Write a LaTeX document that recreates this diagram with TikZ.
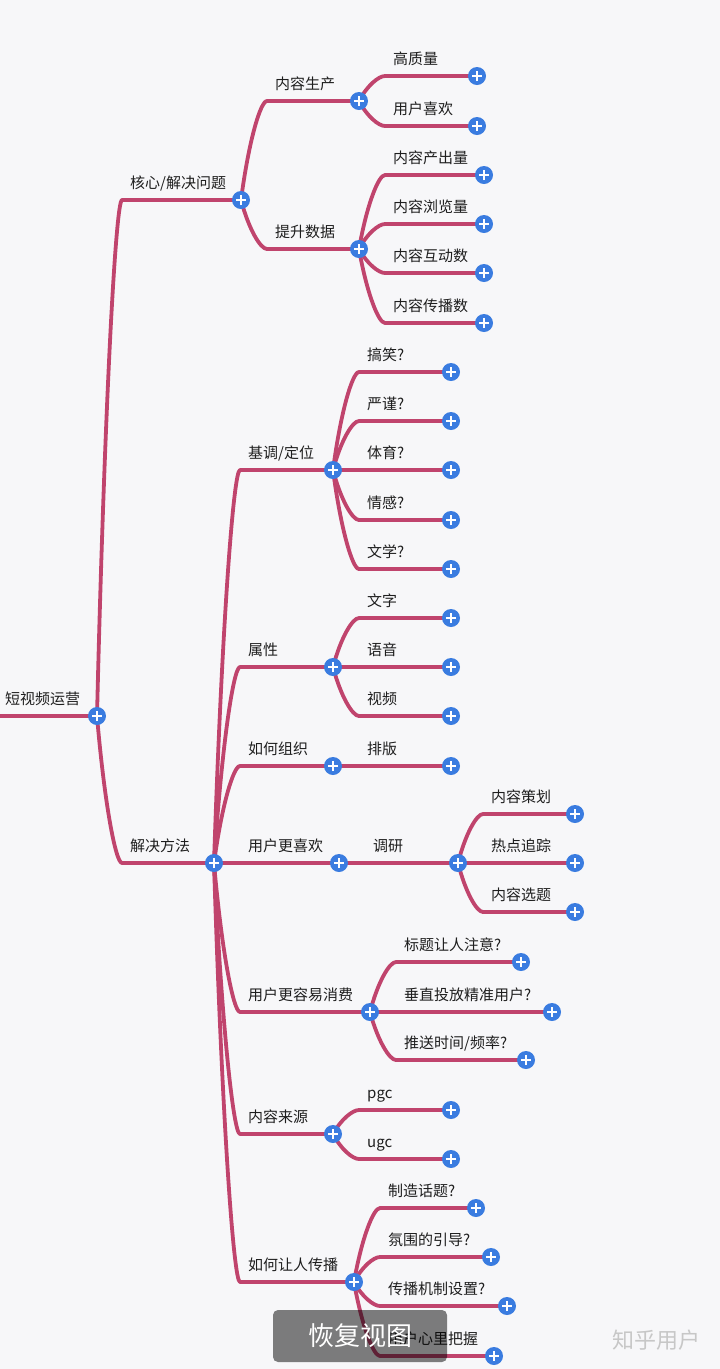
\documentclass[tikz,border=0pt]{standalone}
\usepackage{fontspec}
\setmainfont{Noto Sans CJK SC}
\usepackage{xcolor}
\usepackage{tikz}
\usetikzlibrary{calc}
\definecolor{paper}{HTML}{F7F7F9}
\definecolor{twigred}{HTML}{C0446D}
\definecolor{plusblue}{HTML}{3A7CE0}
\definecolor{ink}{HTML}{1E1E1E}
\pgfdeclarelayer{paperlayer}
\pgfdeclarelayer{twiglayer}
\pgfsetlayers{paperlayer,twiglayer,main}

\begin{document}
\begin{tikzpicture}[x=1pt, y=-1pt,
  topic/.style={anchor=south west, inner xsep=8pt, inner ysep=8pt, text depth=3pt, text=ink, font=\fontsize{15}{18}\selectfont},
  plus/.style={circle, fill=plusblue, minimum size=18pt, inner sep=0pt,
    path picture={\draw[white, line width=2.4pt] ([xshift=-5pt]path picture bounding box.center) -- ([xshift=5pt]path picture bounding box.center) ([yshift=-5pt]path picture bounding box.center) -- ([yshift=5pt]path picture bounding box.center);}},
  twigline/.style={draw=twigred, line width=3.8pt, line cap=round, line join=round},
  twig/.style={to path={let \p1=(\tikztostart), \p2=(\tikztotarget) in
    .. controls ({\x1+0.3*(\x2-\x1)}, {\y1+0.6*(\y2-\y1)}) and ({\x1+0.75*(\x2-\x1)}, \y2) .. (\tikztotarget)}},
  restore/.style={fill=black, fill opacity=0.5, text opacity=1, text=white, rounded corners=5pt, minimum width=174pt, minimum height=52pt, font=\fontsize{26}{30}\selectfont},
  wmark/.style={text=black!22, font=\fontsize{22}{26}\selectfont}
]
  \useasboundingbox (0,0) rectangle (720,1369);
  \begin{pgfonlayer}{paperlayer}
    \fill[paper] (0,0) rectangle (720,1369);
  \end{pgfonlayer}

  \node[topic, inner xsep=5pt] (root) at (0,716) {短视频运营};
  \node[plus] (root-p) at (97,716) {};

  \node[topic] (hx) at (122,200) {核心/解决问题};
  \node[plus] (hx-p) at (241,200) {};
  \node[topic] (jf) at (122,863) {解决方法};
  \node[plus] (jf-p) at (214,863) {};

  \node[topic] (nrsc) at (267,101) {内容生产};
  \node[plus] (nrsc-p) at (359,101) {};
  \node[topic] (tssj) at (267,249) {提升数据};
  \node[plus] (tssj-p) at (359,249) {};

  \node[topic] (gzl) at (385,76) {高质量};
  \node[plus] (gzl-p) at (477,76) {};
  \node[topic] (yhxh) at (385,126) {用户喜欢};
  \node[plus] (yhxh-p) at (477,126) {};

  \node[topic] (ccl) at (385,175) {内容产出量};
  \node[plus] (ccl-p) at (484,175) {};
  \node[topic] (lll) at (385,224) {内容浏览量};
  \node[plus] (lll-p) at (484,224) {};
  \node[topic] (hds) at (385,273) {内容互动数};
  \node[plus] (hds-p) at (484,273) {};
  \node[topic] (cbs) at (385,323) {内容传播数};
  \node[plus] (cbs-p) at (484,323) {};

  \node[topic] (jd) at (240,470) {基调/定位};
  \node[plus] (jd-p) at (333,470) {};
  \node[topic] (sx) at (240,667) {属性};
  \node[plus] (sx-p) at (333,667) {};
  \node[topic] (zz) at (240,766) {如何组织};
  \node[plus] (zz-p) at (333,766) {};
  \node[topic] (gxh) at (240,863) {用户更喜欢};
  \node[plus] (gxh-p) at (339,863) {};
  \node[topic] (xf) at (240,1012) {用户更容易消费};
  \node[plus] (xf-p) at (370,1012) {};
  \node[topic] (ly) at (240,1134) {内容来源};
  \node[plus] (ly-p) at (333,1134) {};
  \node[topic] (cb) at (240,1282) {如何让人传播};
  \node[plus] (cb-p) at (354,1282) {};

  \node[topic] (gx) at (359,372) {搞笑?};
  \node[plus] (gx-p) at (451,372) {};
  \node[topic] (yj) at (359,421) {严谨?};
  \node[plus] (yj-p) at (451,421) {};
  \node[topic] (ty) at (359,470) {体育?};
  \node[plus] (ty-p) at (451,470) {};
  \node[topic] (qg) at (359,520) {情感?};
  \node[plus] (qg-p) at (451,520) {};
  \node[topic] (wx) at (359,569) {文学?};
  \node[plus] (wx-p) at (451,569) {};

  \node[topic] (wz) at (359,618) {文字};
  \node[plus] (wz-p) at (451,618) {};
  \node[topic] (yy) at (359,667) {语音};
  \node[plus] (yy-p) at (451,667) {};
  \node[topic] (sp) at (359,716) {视频};
  \node[plus] (sp-p) at (451,716) {};

  \node[topic] (pb) at (359,766) {排版};
  \node[plus] (pb-p) at (451,766) {};

  \node[topic] (dy) at (365,863) {调研};
  \node[plus] (dy-p) at (458,863) {};
  \node[topic] (ch) at (483,814) {内容策划};
  \node[plus] (ch-p) at (575,814) {};
  \node[topic] (rd) at (483,863) {热点追踪};
  \node[plus] (rd-p) at (575,863) {};
  \node[topic] (xt) at (483,912) {内容选题};
  \node[plus] (xt-p) at (575,912) {};

  \node[topic] (bt) at (396,962) {标题让人注意?};
  \node[plus] (bt-p) at (521,962) {};
  \node[topic] (cz) at (396,1012) {垂直投放精准用户?};
  \node[plus] (cz-p) at (552,1012) {};
  \node[topic] (ts) at (396,1060) {推送时间/频率?};
  \node[plus] (ts-p) at (526,1060) {};

  \node[topic] (pgc) at (359,1110) {pgc};
  \node[plus] (pgc-p) at (451,1110) {};
  \node[topic] (ugc) at (359,1159) {ugc};
  \node[plus] (ugc-p) at (451,1159) {};

  \node[topic] (zzht) at (380,1208) {制造话题?};
  \node[plus] (zzht-p) at (476,1208) {};
  \node[topic] (fw) at (380,1257) {氛围的引导?};
  \node[plus] (fw-p) at (491,1257) {};
  \node[topic] (jz) at (380,1306) {传播机制设置?};
  \node[plus] (jz-p) at (507,1306) {};
  \node[topic] (xl) at (380,1356) {用户心里把握};
  \node[plus] (xl-p) at (494,1356) {};

  \begin{pgfonlayer}{twiglayer}
    \draw[twigline] (root.south west) -- (root-p.center);
    \foreach \a/\b in {root/hx, root/jf, hx/nrsc, hx/tssj, nrsc/gzl, nrsc/yhxh,
      tssj/ccl, tssj/lll, tssj/hds, tssj/cbs,
      jf/jd, jf/sx, jf/zz, jf/gxh, jf/xf, jf/ly, jf/cb,
      jd/gx, jd/yj, jd/ty, jd/qg, jd/wx, sx/wz, sx/yy, sx/sp, zz/pb,
      gxh/dy, dy/ch, dy/rd, dy/xt, xf/bt, xf/cz, xf/ts, ly/pgc, ly/ugc,
      cb/zzht, cb/fw, cb/jz, cb/xl}
      \draw[twigline] (\a-p.center) to[twig] (\b.south west) -- (\b-p.center);
  \end{pgfonlayer}

  \node[restore] (restorebtn) at (360,1336) {恢复视图};
  \node[wmark] (zhihu) at (656,1340) {知乎用户};
\end{tikzpicture}
\end{document}
